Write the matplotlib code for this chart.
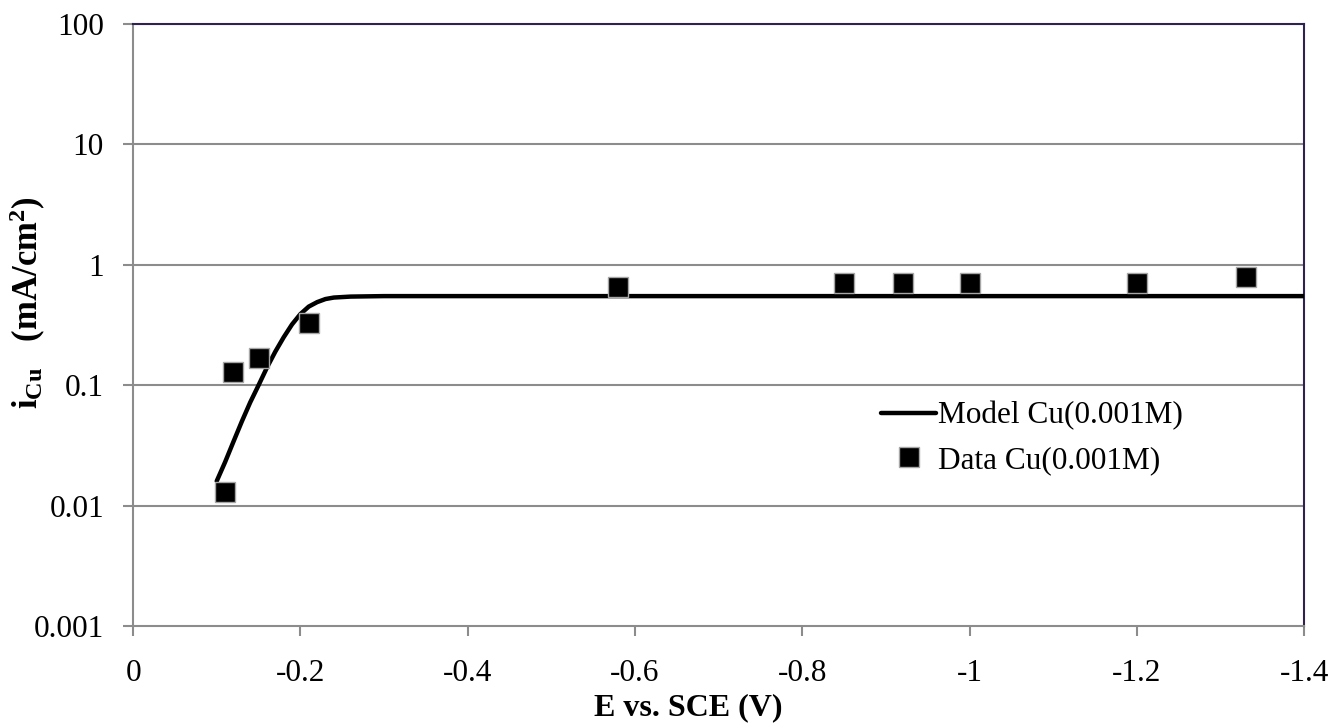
import matplotlib
matplotlib.use("Agg")
import matplotlib.pyplot as plt
from matplotlib.ticker import FixedLocator, FixedFormatter, NullLocator

plt.rcParams['font.family'] = ['Liberation Serif', 'DejaVu Serif']
plt.rcParams['mathtext.fontset'] = 'custom'
plt.rcParams['mathtext.rm'] = 'Liberation Serif'
plt.rcParams['mathtext.bf'] = 'Liberation Serif:bold'
plt.rcParams['mathtext.it'] = 'Liberation Serif:italic'

# Model curve
model_E = [-0.10, -0.11, -0.12, -0.13, -0.14, -0.15, -0.16, -0.17, -0.18, -0.19,
           -0.20, -0.21, -0.22, -0.23, -0.24, -0.26, -0.30, -0.40, -0.60, -0.80,
           -1.00, -1.20, -1.40]
model_i = [0.016, 0.023, 0.034, 0.050, 0.072, 0.100, 0.140, 0.190, 0.250, 0.320,
           0.390, 0.450, 0.490, 0.520, 0.535, 0.545, 0.550, 0.550, 0.550, 0.550,
           0.550, 0.550, 0.550]

# Data points
data_E = [-0.11, -0.12, -0.15, -0.21, -0.58, -0.85, -0.92, -1.00, -1.20, -1.33]
data_i = [0.013, 0.13, 0.17, 0.33, 0.65, 0.70, 0.70, 0.70, 0.70, 0.80]

x_ticks = [0, -0.2, -0.4, -0.6, -0.8, -1.0, -1.2, -1.4]
x_labels = ['0', '-0.2', '-0.4', '-0.6', '-0.8', '-1', '-1.2', '-1.4']
y_ticks = [0.001, 0.01, 0.1, 1, 10, 100]
y_labels = ['0.001', '0.01', '0.1', '1', '10', '100']

fig = plt.figure(figsize=(13.36, 7.28), dpi=100)
ax = fig.add_axes([0.0996, 0.140, 0.8766, 0.827])

grid_c = '#8C8C8C'
frame_c = '#2F2150'

ax.set_yscale('log')
ax.set_xlim(0, -1.4)
ax.set_ylim(0.001, 100)

for yv in y_ticks[1:]:
    ax.axhline(yv, color=grid_c, lw=1.5, zorder=1)

ax.plot(model_E, model_i, color='black', lw=3.2, solid_capstyle='round',
        zorder=3, label='Model Cu(0.001M)')
ax.plot(data_E, data_i, linestyle='none', marker='s', markersize=14.5,
        markerfacecolor='black', markeredgecolor='#A6A6A6', markeredgewidth=1.0,
        zorder=4, label='Data Cu(0.001M)')

ax.xaxis.set_major_locator(FixedLocator(x_ticks))
ax.xaxis.set_major_formatter(FixedFormatter(x_labels))
ax.yaxis.set_major_locator(FixedLocator(y_ticks))
ax.yaxis.set_major_formatter(FixedFormatter(y_labels))
ax.yaxis.set_minor_locator(NullLocator())
ax.xaxis.set_minor_locator(NullLocator())

ax.tick_params(axis='both', direction='out', length=7, width=1.5, color=grid_c,
               labelsize=22.5, colors='black')
ax.tick_params(axis='both', color=grid_c)
ax.tick_params(axis='x', pad=17)
ax.tick_params(axis='y', pad=14)

for s in ['left', 'bottom']:
    ax.spines[s].set_color(grid_c)
    ax.spines[s].set_linewidth(1.5)
for s in ['top', 'right']:
    ax.spines[s].set_color(frame_c)
    ax.spines[s].set_linewidth(1.5)

ax.set_xlabel('E vs. SCE (V)', fontsize=23, fontweight='bold')
ax.xaxis.set_label_coords(0.474, -0.136)
ax.xaxis.label.set_va('center')
ax.set_ylabel(r'$\mathbf{i_{Cu}}$   (mA/cm$^{\mathbf{2}}$)', fontsize=25, fontweight='bold')
ax.yaxis.set_label_coords(-0.090, 0.538)
ax.yaxis.label.set_va('center')

leg = ax.legend(loc='center left', bbox_to_anchor=(0.639, 0.312), frameon=False,
                fontsize=22.5, handlelength=1.75, handletextpad=0.05, borderpad=0,
                labelspacing=0.5, borderaxespad=0)

fig.savefig('out.png', dpi=100, facecolor='white')
